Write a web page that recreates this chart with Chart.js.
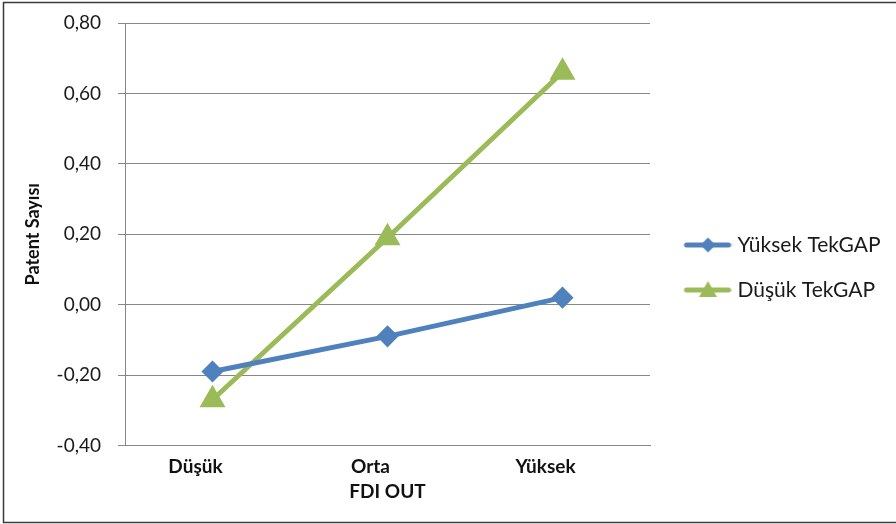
<!DOCTYPE html>
<html>
<head>
<meta charset="utf-8">
<script src="https://cdn.jsdelivr.net/npm/chart.js@4"></script>
<style>
  html, body { margin: 0; padding: 0; background: #fff; }
  #wrap { width: 896px; height: 524px; }
</style>
</head>
<body>
<div id="wrap"><canvas id="lineChart" width="896" height="524"></canvas></div>
<script>
const categories = ['Düşük', 'Orta', 'Yüksek'];
const seriesNames = ['Yüksek TekGAP', 'Düşük TekGAP'];
const yuksekTekgap = [-0.19, -0.09, 0.02];
const dusukTekgap = [-0.27, 0.19, 0.66];
const yTicks = [-0.4, -0.2, 0, 0.2, 0.4, 0.6, 0.8];

const BLUE = '#4F81BD';
const GREEN = '#9BBB59';
const GRID = '#878787';
const FONT = 'Lato, "Liberation Sans", sans-serif';

// legend icons: a short line with the marker sitting in the middle
function legendIcon(color, shape) {
    const c = document.createElement('canvas');
    c.width = 62; c.height = 24;
    const g = c.getContext('2d');
    g.strokeStyle = color;
    g.lineWidth = 5;
    g.lineCap = 'round';
    g.beginPath();
    g.moveTo(17, 12); g.lineTo(59, 12);
    g.stroke();
    g.fillStyle = color;
    g.beginPath();
    const cx = 38.5, cy = 12;
    if (shape === 'diamond') {
        g.moveTo(cx, cy - 7.5); g.lineTo(cx + 7.5, cy); g.lineTo(cx, cy + 7.5); g.lineTo(cx - 7.5, cy);
    } else {
        g.moveTo(cx, cy - 9); g.lineTo(cx + 9, cy + 7); g.lineTo(cx - 9, cy + 7);
    }
    g.closePath();
    g.fill();
    return c;
}
const legendIcons = [legendIcon(BLUE, 'diamond'), legendIcon(GREEN, 'triangle')];

const frame = {
    id: 'frame',
    afterInit(chart) {
        const legend = chart.legend;
        const fit = legend.fit;
        legend.fit = function() {
            fit.call(this);
            this.width = 246;
        };
    },
    beforeDraw(chart) {
        const ctx = chart.ctx;
        ctx.save();
        ctx.fillStyle = '#fff';
        ctx.fillRect(0, 0, chart.width, chart.height);
        ctx.restore();
    },
    afterDraw(chart) {
        const ctx = chart.ctx;
        ctx.save();
        ctx.strokeStyle = '#3a3a3a';
        ctx.lineWidth = 1.5;
        ctx.beginPath();
        ctx.moveTo(896, 2.5); ctx.lineTo(3.5, 2.5); ctx.lineTo(3.5, 522.5); ctx.lineTo(896, 522.5);
        ctx.stroke();
        ctx.restore();
    }
};

const ctx = document.getElementById('lineChart').getContext('2d');
new Chart(ctx, {
    type: 'line',
    data: {
        labels: categories,
        datasets: [{
            label: seriesNames[0],
            data: yuksekTekgap,
            borderColor: BLUE,
            backgroundColor: BLUE,
            borderWidth: 5,
            pointStyle: 'rectRot',
            pointRadius: 7.5,
            pointHoverRadius: 7.5,
            tension: 0
        }, {
            label: seriesNames[1],
            data: dusukTekgap,
            borderColor: GREEN,
            backgroundColor: GREEN,
            borderWidth: 5,
            pointStyle: 'triangle',
            pointRadius: 10,
            pointHoverRadius: 10,
            tension: 0
        }]
    },
    options: {
        responsive: false,
        animation: false,
        layout: { padding: { top: 23, bottom: 12, left: 0, right: 0 } },
        plugins: {
            tooltip: { enabled: false },
            legend: {
                position: 'right',
                labels: {
                    usePointStyle: true,
                    pointStyleWidth: 53,
                    padding: 24,
                    color: '#1a1a1a',
                    font: { family: FONT, size: 21 },
                    generateLabels(chart) {
                        const items = Chart.defaults.plugins.legend.labels.generateLabels(chart);
                        items.forEach((it, i) => { it.pointStyle = legendIcons[i]; });
                        return items;
                    }
                }
            }
        },
        scales: {
            x: {
                offset: true,
                grid: { display: false },
                border: { color: GRID, width: 1 },
                ticks: {
                    padding: 2,
                    labelOffset: -17,
                    color: '#111',
                    font: { family: FONT, size: 19, weight: 'bold' }
                },
                title: {
                    display: true,
                    text: 'FDI OUT',
                    color: '#111',
                    padding: { top: 0, bottom: 9 },
                    font: { family: FONT, size: 19, weight: 'bold' }
                },
                afterFit(scale) { scale.height = 66.5; }
            },
            y: {
                min: -0.4,
                max: 0.8,
                afterBuildTicks(scale) { scale.ticks = yTicks.map(v => ({ value: v })); },
                grid: { color: GRID, lineWidth: 1, tickLength: 7, drawTicks: true },
                border: { color: GRID, width: 1 },
                ticks: {
                    padding: 17,
                    color: '#1a1a1a',
                    font: { family: FONT, size: 19 },
                    callback: v => v.toFixed(2).replace('.', ',')
                },
                title: {
                    display: true,
                    text: 'Patent Sayısı',
                    color: '#111',
                    padding: { top: 22, bottom: 0 },
                    font: { family: FONT, size: 18, weight: 'bold' }
                },
                afterFit(scale) {
                    scale.width = 125;
                    scale.paddingTop = 0;
                    scale.paddingBottom = 0;
                }
            }
        }
    },
    plugins: [frame]
});
</script>
</body>
</html>
